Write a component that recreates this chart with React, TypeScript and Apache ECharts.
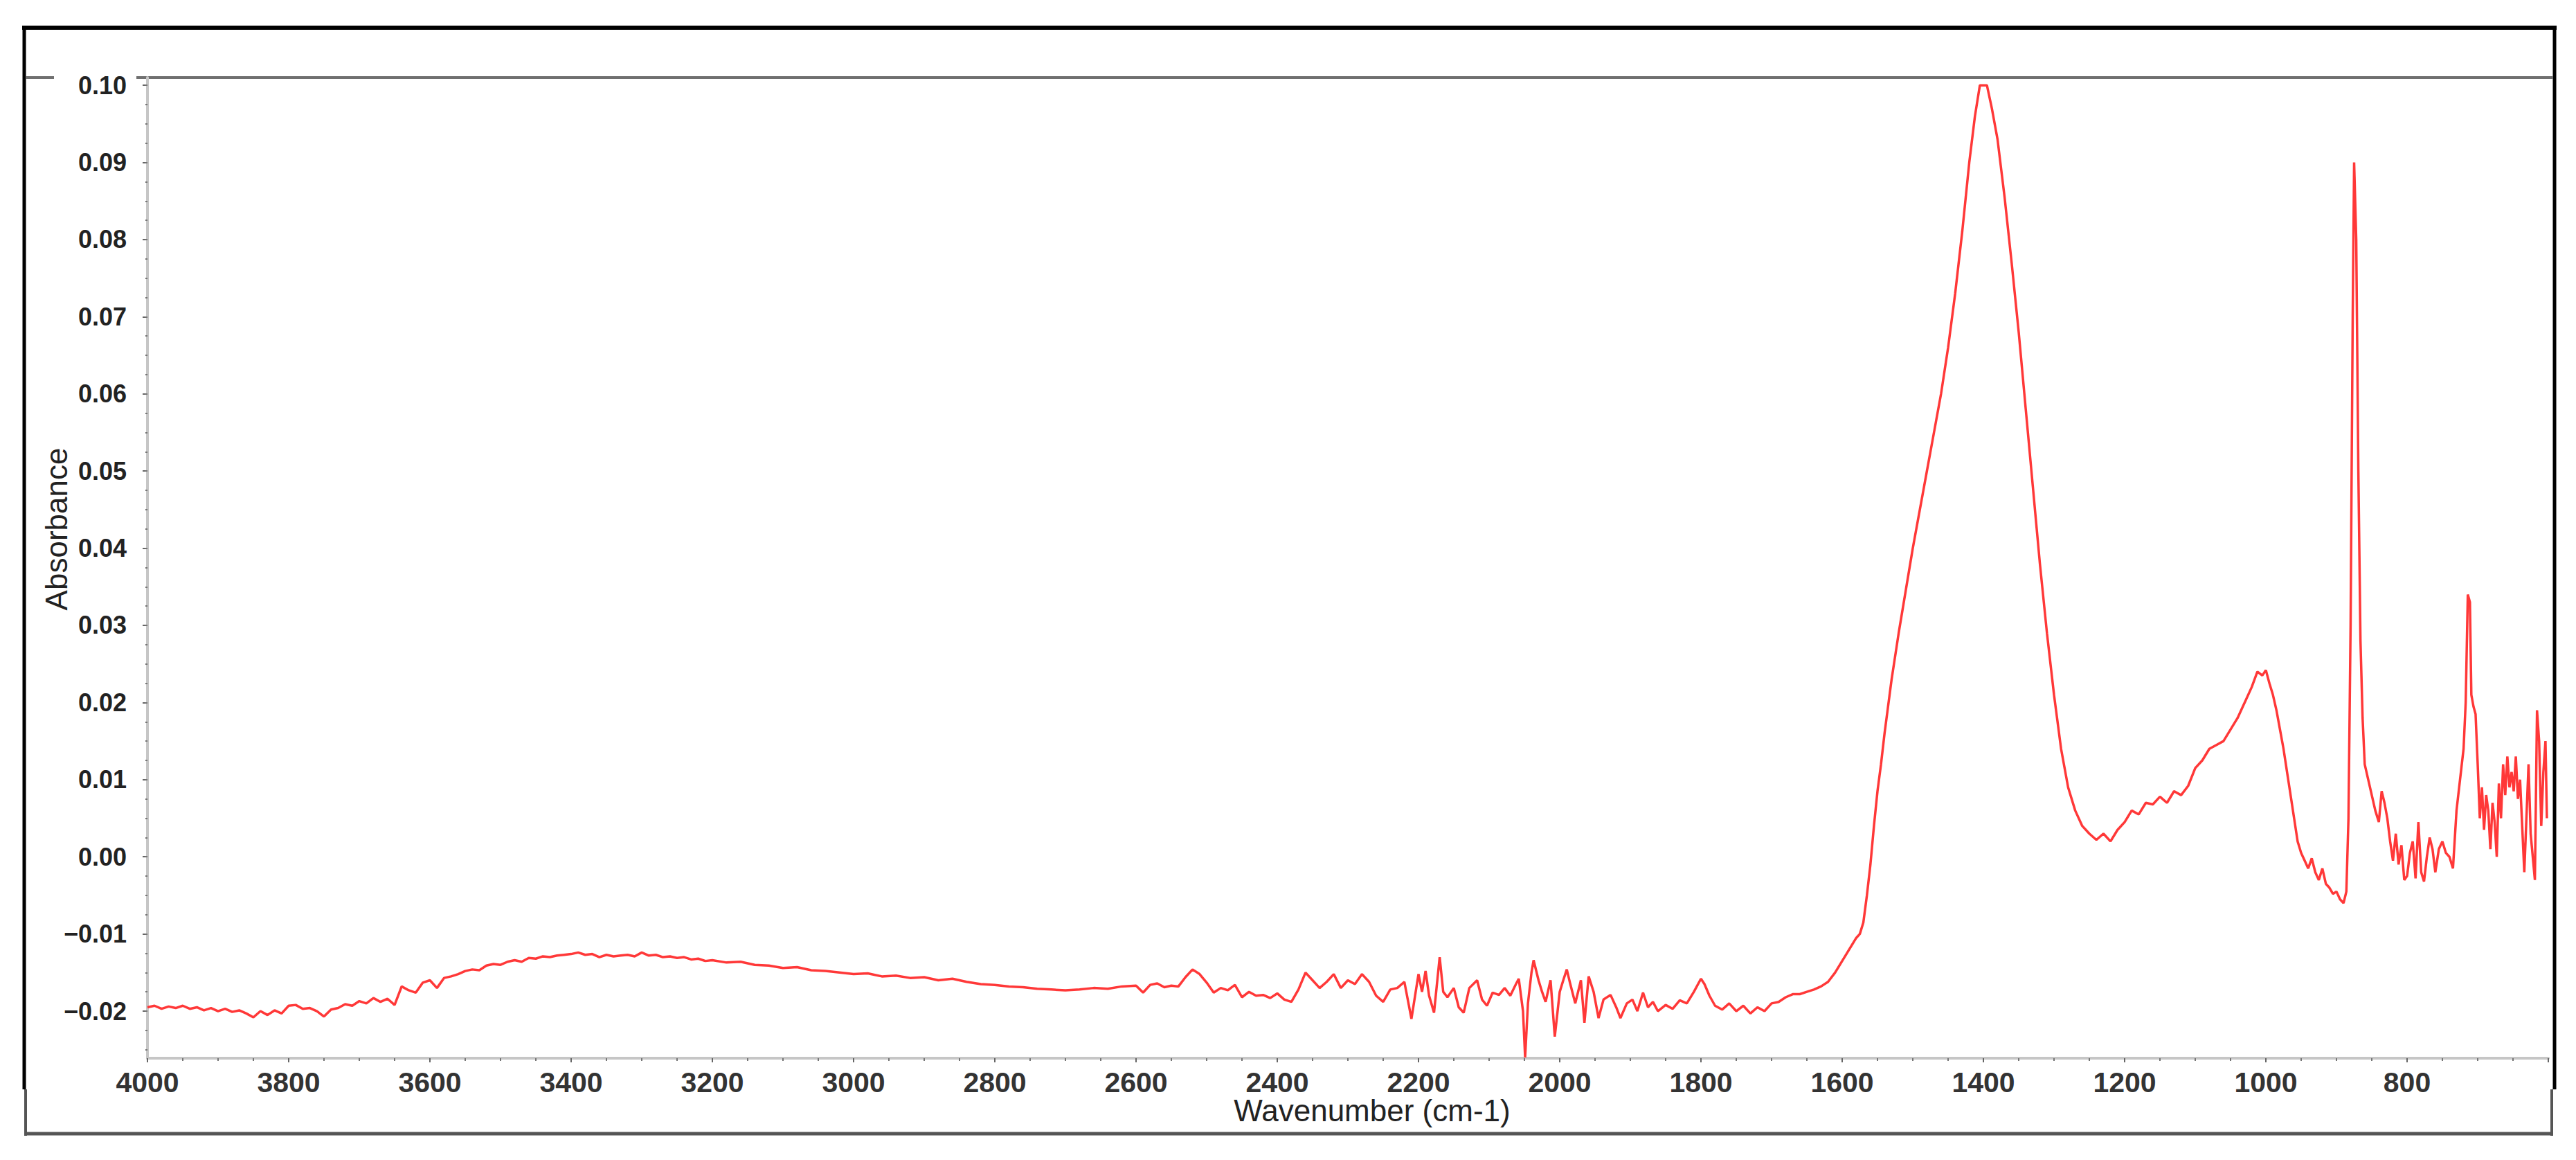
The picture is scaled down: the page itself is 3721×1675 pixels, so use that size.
import React, { useEffect, useRef } from "react";
import * as echarts from "echarts";

// ---- axis ticks / labels ----
const X_MIN = 600;
const X_MAX = 4000;
const Y_MIN = -0.0261;
const Y_MAX = 0.101;
const Y_MAJOR = [-0.02, -0.01, 0, 0.01, 0.02, 0.03, 0.04, 0.05, 0.06, 0.07, 0.08, 0.09, 0.1];
const Y_MINOR = [
  -0.025, -0.0225, -0.02, -0.0175, -0.015, -0.0125, -0.01, -0.0075, -0.005, -0.0025, 0,
  0.0025, 0.005, 0.0075, 0.01, 0.0125, 0.015, 0.0175, 0.02, 0.0225, 0.025, 0.0275, 0.03,
  0.0325, 0.035, 0.0375, 0.04, 0.0425, 0.045, 0.0475, 0.05, 0.0525, 0.055, 0.0575, 0.06,
  0.0625, 0.065, 0.0675, 0.07, 0.0725, 0.075, 0.0775, 0.08, 0.0825, 0.085, 0.0875, 0.09,
  0.0925, 0.095, 0.0975, 0.1,
];
const X_TITLE = "Wavenumber (cm-1)";
const Y_TITLE = "Absorbance";

// ---- spectrum: [wavenumber, absorbance] ----
const highWavenumber = [
  [4000, -0.0195], [3990, -0.0193], [3980, -0.0197], [3970, -0.0194], [3960, -0.0196],
  [3950, -0.0193], [3940, -0.0197], [3930, -0.0195], [3920, -0.0199], [3910, -0.0196],
  [3900, -0.02], [3890, -0.0197], [3880, -0.0201], [3870, -0.0199], [3860, -0.0203],
  [3850, -0.0208], [3840, -0.02], [3830, -0.0205], [3820, -0.0199], [3810, -0.0203],
  [3800, -0.0193], [3790, -0.0192], [3780, -0.0197], [3770, -0.0196], [3760, -0.02],
  [3750, -0.0207], [3740, -0.0198], [3730, -0.0196], [3720, -0.0191], [3710, -0.0193],
  [3700, -0.0187], [3690, -0.019], [3680, -0.0183], [3670, -0.0188], [3660, -0.0184],
  [3650, -0.0192], [3640, -0.0168], [3630, -0.0173], [3620, -0.0176], [3610, -0.0163],
  [3600, -0.016], [3590, -0.017], [3580, -0.0157], [3570, -0.0155], [3560, -0.0152],
  [3550, -0.0148], [3540, -0.0146], [3530, -0.0147], [3520, -0.0141], [3510, -0.0139],
  [3500, -0.014], [3490, -0.0136], [3480, -0.0134], [3470, -0.0136], [3460, -0.0131],
  [3450, -0.0132], [3440, -0.0129], [3430, -0.013], [3420, -0.0128], [3410, -0.0127],
  [3400, -0.0126], [3390, -0.0124], [3380, -0.0127], [3370, -0.0126], [3360, -0.013],
  [3350, -0.0127], [3340, -0.0129], [3330, -0.0128], [3320, -0.0127], [3310, -0.0129],
  [3300, -0.0124], [3290, -0.0128], [3280, -0.0127], [3270, -0.013], [3260, -0.0129],
  [3250, -0.0131], [3240, -0.013], [3230, -0.0133], [3220, -0.0132], [3210, -0.0135],
  [3200, -0.0134], [3180, -0.0137], [3160, -0.0136], [3140, -0.014], [3120, -0.0141],
  [3100, -0.0144], [3080, -0.0143], [3060, -0.0147], [3040, -0.0148], [3020, -0.015],
  [3000, -0.0152], [2980, -0.0151], [2960, -0.0155], [2940, -0.0154], [2920, -0.0157],
  [2900, -0.0156], [2880, -0.016], [2860, -0.0158], [2840, -0.0162], [2820, -0.0165],
  [2800, -0.0166], [2780, -0.0168], [2760, -0.0169], [2740, -0.0171], [2720, -0.0172],
  [2700, -0.0173], [2680, -0.0172], [2660, -0.017], [2640, -0.0171], [2620, -0.0168],
];

const noisyMiddle = [
  [2600, -0.0167], [2590, -0.0176], [2580, -0.0166], [2570, -0.0164], [2560, -0.0169],
  [2550, -0.0167], [2540, -0.0168], [2530, -0.0156], [2520, -0.0146], [2510, -0.0152],
  [2500, -0.0163], [2490, -0.0176], [2480, -0.017], [2470, -0.0173], [2460, -0.0166],
  [2450, -0.0182], [2440, -0.0175], [2430, -0.018], [2420, -0.0179], [2410, -0.0183],
  [2400, -0.0177], [2390, -0.0185], [2380, -0.0188], [2370, -0.0172], [2360, -0.015],
  [2350, -0.016], [2340, -0.017], [2330, -0.0162], [2320, -0.0152], [2310, -0.017],
  [2300, -0.016], [2290, -0.0165], [2280, -0.0152], [2270, -0.0162], [2260, -0.018],
  [2250, -0.0188], [2240, -0.0172], [2230, -0.017], [2220, -0.0162], [2210, -0.021],
  [2200, -0.0152], [2195, -0.0175], [2190, -0.0148], [2185, -0.018], [2178, -0.0202],
  [2170, -0.013], [2165, -0.0175], [2159, -0.0182], [2150, -0.017], [2143, -0.0195],
  [2136, -0.0202], [2128, -0.017], [2117, -0.016], [2110, -0.0185], [2103, -0.0193],
  [2095, -0.0176], [2086, -0.0179], [2078, -0.017], [2070, -0.018], [2062, -0.0165],
  [2058, -0.0158], [2052, -0.02], [2049, -0.026], [2045, -0.019], [2040, -0.015],
  [2037, -0.0134], [2030, -0.016], [2025, -0.0175], [2020, -0.0188], [2013, -0.016],
  [2007, -0.0233], [2000, -0.0175], [1995, -0.016], [1990, -0.0146], [1985, -0.0165],
  [1978, -0.019], [1970, -0.016], [1965, -0.0215], [1959, -0.0155], [1952, -0.0175],
  [1945, -0.0209], [1938, -0.0185], [1928, -0.0179], [1920, -0.0195], [1914, -0.0209],
  [1905, -0.019], [1897, -0.0185], [1890, -0.02], [1882, -0.0176], [1875, -0.0195],
  [1868, -0.0188], [1861, -0.02], [1850, -0.0192], [1840, -0.0197], [1830, -0.0186],
  [1820, -0.019], [1810, -0.0175], [1800, -0.0158], [1795, -0.0165], [1788, -0.018],
  [1780, -0.0193], [1770, -0.0198], [1760, -0.019], [1750, -0.02], [1740, -0.0193],
  [1730, -0.0203], [1720, -0.0195], [1710, -0.02], [1700, -0.019], [1690, -0.0188],
  [1680, -0.0182], [1670, -0.0178], [1660, -0.0178], [1650, -0.0175], [1640, -0.0172],
  [1630, -0.0168], [1620, -0.0162], [1610, -0.015],
];

const carbonateBand = [
  [1600, -0.0135], [1590, -0.012], [1580, -0.0105], [1575, -0.01], [1570, -0.0085],
  [1565, -0.005], [1560, -0.001], [1555, 0.004], [1550, 0.0085], [1545, 0.012],
  [1540, 0.016], [1530, 0.023], [1520, 0.029], [1510, 0.0345], [1500, 0.04],
  [1490, 0.045], [1480, 0.05], [1470, 0.055], [1460, 0.06], [1450, 0.066],
  [1440, 0.073], [1430, 0.081], [1420, 0.09], [1412, 0.096], [1405, 0.1],
  [1395, 0.1], [1388, 0.097], [1380, 0.093], [1370, 0.0855], [1360, 0.077],
  [1350, 0.068], [1340, 0.058], [1330, 0.048], [1320, 0.038], [1310, 0.029],
  [1300, 0.021], [1290, 0.014], [1280, 0.009], [1270, 0.006], [1260, 0.004],
  [1250, 0.003], [1240, 0.0022], [1230, 0.003], [1220, 0.002], [1210, 0.0035],
  [1200, 0.0045], [1190, 0.006], [1180, 0.0055], [1170, 0.007], [1160, 0.0068],
  [1150, 0.0078], [1140, 0.007], [1130, 0.0085], [1120, 0.008], [1110, 0.0092],
  [1100, 0.0115], [1090, 0.0125], [1080, 0.014], [1070, 0.0145], [1060, 0.015],
  [1050, 0.0165], [1040, 0.018], [1030, 0.02], [1020, 0.022], [1012, 0.024],
  [1005, 0.0235], [1000, 0.0242], [995, 0.0225], [990, 0.021], [985, 0.019],
  [980, 0.0165], [975, 0.014], [970, 0.011], [965, 0.008], [960, 0.005],
  [955, 0.002], [950, 0.0005], [945, -0.0005], [940, -0.0015], [935, -0.0002],
  [930, -0.002], [925, -0.003], [920, -0.0015], [915, -0.0035], [910, -0.004],
  [905, -0.0048], [900, -0.0045], [895, -0.0055], [890, -0.006], [886, -0.0045],
];

const fingerprint = [
  [883, 0.005], [880, 0.03], [877, 0.07], [875, 0.09], [872, 0.08],
  [869, 0.05], [866, 0.028], [863, 0.018], [860, 0.012], [855, 0.01],
  [850, 0.008], [845, 0.006], [840, 0.0045], [836, 0.0085], [832, 0.007],
  [828, 0.005], [824, 0.002], [820, -0.0005], [816, 0.003], [812, -0.001],
  [808, 0.0015], [804, -0.003], [800, -0.0025], [796, 0.0005], [792, 0.002],
  [788, -0.0028], [784, 0.0045], [780, -0.002], [776, -0.0032], [772, 0],
  [768, 0.0025], [764, 0.001], [760, -0.002], [755, 0.001], [750, 0.002],
  [745, 0.0005], [740, 0], [735, -0.0015], [730, 0.006], [725, 0.01],
  [720, 0.014], [717, 0.02], [714, 0.034], [711, 0.033], [709, 0.021],
  [706, 0.0195], [703, 0.0185], [700, 0.012], [697, 0.005], [694, 0.009],
  [691, 0.0035], [688, 0.008], [685, 0.006], [682, 0.001], [679, 0.007],
  [676, 0.0045], [673, 0], [670, 0.0095], [667, 0.005], [664, 0.012],
  [661, 0.008], [658, 0.013], [655, 0.009], [652, 0.011], [649, 0.0085],
  [646, 0.013], [643, 0.0075], [640, 0.01], [637, 0.004], [634, -0.002],
  [631, 0.005], [628, 0.012], [625, 0.003], [622, 0], [619, -0.003],
  [616, 0.019], [613, 0.015], [610, 0.004], [607, 0.011], [604, 0.015], [602, 0.005],
];

const FONT = "'Liberation Sans', Arial, sans-serif";

function fmtY(v: number): string {
  const s = v.toFixed(2);
  return s.startsWith("-") ? "\u2212" + s.slice(1) : s;
}

export default function App() {
  const ref = useRef<HTMLDivElement>(null);

  useEffect(() => {
    if (!ref.current) return;
    const chart = echarts.init(ref.current, undefined, { renderer: "svg" });
    const spectrum = [...highWavenumber, ...noisyMiddle, ...carbonateBand, ...fingerprint];

    const axisLineStyle = { color: "#c6c6c6", width: 4 };
    const black = "#000";
    const gray = "#555";

    chart.setOption({
      animation: false,
      backgroundColor: "#ffffff",
      grid: {
        left: 213,
        top: 112,
        width: 3468,
        height: 1416,
        containLabel: false,
        outerBoundsMode: "none",
      },
      xAxis: [
        {
          type: "value",
          inverse: true,
          min: X_MIN,
          max: X_MAX,
          interval: 200,
          position: "bottom",
          axisLine: { show: true, onZero: false, lineStyle: axisLineStyle },
          axisTick: { show: true, length: 6, lineStyle: { color: "#666", width: 2 } },
          minorTick: { show: true, splitNumber: 4, length: 4, lineStyle: { color: "#777", width: 2 } },
          splitLine: { show: false },
          minorSplitLine: { show: false },
          axisLabel: {
            showMinLabel: false,
            showMaxLabel: true,
            formatter: (v: number) => String(v),
            margin: 14,
            fontFamily: FONT,
            fontWeight: "bold",
            fontSize: 41,
            color: "#333",
          },
        },
      ],
      yAxis: [
        {
          type: "value",
          min: Y_MIN,
          max: Y_MAX,
          position: "left",
          axisLine: { show: true, onZero: false, lineStyle: axisLineStyle },
          axisTick: { show: true, customValues: Y_MAJOR, length: 7, lineStyle: { color: "#666", width: 2 } },
          splitLine: { show: false },
          axisLabel: {
            customValues: Y_MAJOR,
            formatter: (v: number) => fmtY(v),
            margin: 30,
            padding: [0, 0, 10, 0],
            fontFamily: FONT,
            fontWeight: "bold",
            fontSize: 36,
            color: "#222",
          },
        },
        {
          type: "value",
          min: Y_MIN,
          max: Y_MAX,
          position: "left",
          axisLine: { show: false },
          axisTick: { show: true, customValues: Y_MINOR, length: 3, lineStyle: { color: "#777", width: 2 } },
          axisLabel: { show: false },
          splitLine: { show: false },
        },
      ],
      series: [
        {
          type: "line",
          data: spectrum,
          xAxisIndex: 0,
          yAxisIndex: 0,
          showSymbol: false,
          symbol: "none",
          lineStyle: { color: "#ff3838", width: 3.5 },
          z: 3,
        },
      ],
      graphic: [
        { type: "line", shape: { x1: 32, y1: 40, x2: 3693, y2: 40 }, style: { stroke: black, lineWidth: 6 } },
        { type: "line", shape: { x1: 35, y1: 37, x2: 35, y2: 1573 }, style: { stroke: black, lineWidth: 5 } },
        { type: "line", shape: { x1: 37, y1: 1573, x2: 37, y2: 1640 }, style: { stroke: gray, lineWidth: 4 } },
        { type: "line", shape: { x1: 35, y1: 1637, x2: 3688, y2: 1637 }, style: { stroke: gray, lineWidth: 5 } },
        { type: "line", shape: { x1: 3690, y1: 37, x2: 3690, y2: 1573 }, style: { stroke: black, lineWidth: 5 } },
        { type: "line", shape: { x1: 3686, y1: 1573, x2: 3686, y2: 1640 }, style: { stroke: gray, lineWidth: 4 } },
        { type: "line", shape: { x1: 37, y1: 112, x2: 78, y2: 112 }, style: { stroke: "#707070", lineWidth: 4 } },
        { type: "line", shape: { x1: 197, y1: 112, x2: 3688, y2: 112 }, style: { stroke: "#707070", lineWidth: 4 } },
        {
          type: "text",
          x: 81,
          y: 764,
          rotation: Math.PI / 2,
          style: {
            text: Y_TITLE,
            fontFamily: FONT,
            fontSize: 44,
            fill: "#222",
            align: "center",
            verticalAlign: "middle",
          },
        },
        {
          type: "text",
          x: 1982,
          y: 1603,
          style: {
            text: X_TITLE,
            fontFamily: FONT,
            fontSize: 44,
            fill: "#222",
            align: "center",
            verticalAlign: "middle",
          },
        },
      ],
    });

    return () => chart.dispose();
  }, []);

  return (
    <div
      ref={ref}
      style={{ position: "fixed", left: 0, top: 0, width: 3721, height: 1675, background: "#fff" }}
    />
  );
}
